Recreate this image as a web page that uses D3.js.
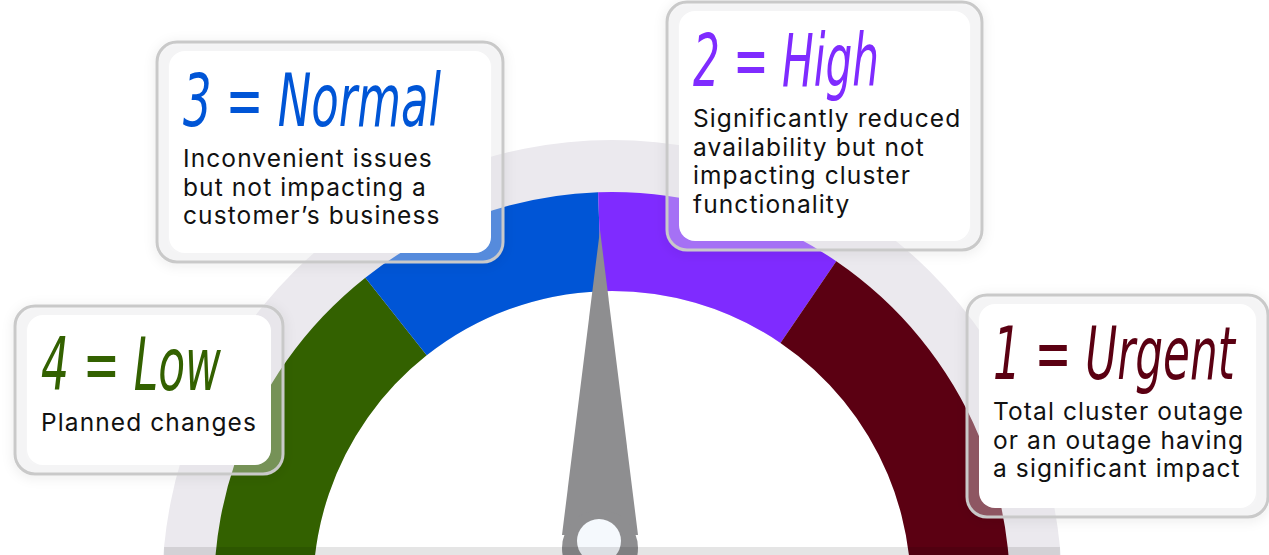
<!DOCTYPE html>
<html>
<head>
<meta charset="utf-8">
<script src="https://cdn.jsdelivr.net/npm/d3@7"></script>
<style>
  body { margin: 0; background: #fff; overflow: hidden; }
  .title { font-family: 'Liberation Sans Narrow', 'DejaVu Sans Condensed', sans-serif; font-style: italic; font-size: 73px; }
  .body-line { font-family: Inter, 'Noto Sans', sans-serif; font-size: 24.5px; letter-spacing: 1.1px; fill: #111; }
</style>
</head>
<body>
<script>
const width = 1269;
const height = 555;

// severity levels, left to right on the dial
const levels = ['4 = Low', '3 = Normal', '2 = High', '1 = Urgent'];
const spans = [66, 36.3, 36.3, 66];          // degrees of dial per level
const colors = ['#336100', '#0055d6', '#7f2bff', '#5b0012'];
const descriptions = [
  ['Planned changes'],
  ['Inconvenient issues', 'but not impacting a', 'customer\u2019s business'],
  ['Significantly reduced', 'availability but not', 'impacting cluster', 'functionality'],
  ['Total cluster outage', 'or an outage having', 'a significant impact']
];

// layout of the call-out boxes (same order as levels)
const boxes = [
  {x: 15,  y: 306, w: 268, h: 168, tw: 180},
  {x: 157, y: 42,  w: 346, h: 220, tw: 258},
  {x: 667, y: 2,   w: 315, h: 248, tw: 186},
  {x: 967, y: 295, w: 301, h: 222, tw: 242}
];

const cx = 612, cy = 590;
const rOuterBand = 450, rRingOuter = 398, rRingInner = 299;
const deg = Math.PI / 180;

const svg = d3.select('body').append('svg')
  .attr('width', width)
  .attr('height', height);

const defs = svg.append('defs');
const shadow = defs.append('filter').attr('id', 'shadow')
  .attr('x', '-20%').attr('y', '-20%').attr('width', '140%').attr('height', '140%');
shadow.append('feDropShadow')
  .attr('dx', 0).attr('dy', 2)
  .attr('stdDeviation', 6)
  .attr('flood-color', '#000')
  .attr('flood-opacity', 0.12);

const gauge = svg.append('g')
  .attr('transform', `translate(${cx}, ${cy})`);

gauge.append('circle')
  .attr('r', rOuterBand)
  .style('fill', '#ebe9ee');

gauge.append('circle')
  .attr('r', rRingInner)
  .style('fill', '#fff');

const pie = d3.pie()
  .sort(null)
  .value(d => d)
  .startAngle(-104.3 * deg)
  .endAngle((-104.3 + d3.sum(spans)) * deg);

const arc = d3.arc()
  .innerRadius(rRingInner)
  .outerRadius(rRingOuter);

gauge.selectAll('path.segment')
  .data(pie(spans))
  .enter()
  .append('path')
  .attr('class', 'segment')
  .attr('d', arc)
  .style('fill', (d, i) => colors[i]);

// needle
const needle = svg.append('g');
const nx = 600, tipY = 230, baseY = 535, baseHalf = 38;
needle.append('path')
  .attr('d', `M${nx},${tipY} L${nx + baseHalf},${baseY} L${nx - baseHalf},${baseY} Z`)
  .style('fill', '#8e8e90');
needle.append('circle')
  .attr('cx', nx).attr('cy', 548).attr('r', 38)
  .style('fill', '#8e8e90');
needle.append('circle')
  .attr('cx', 599).attr('cy', 541).attr('r', 22)
  .style('fill', '#f5f9fd');

// bottom base strip, clipped to the grey band
const stripY = 547;
const halfChord = Math.sqrt(rOuterBand * rOuterBand - (cy - stripY) * (cy - stripY));
svg.append('rect')
  .attr('x', cx - halfChord)
  .attr('y', stripY)
  .attr('width', halfChord * 2)
  .attr('height', height - stripY)
  .style('fill', '#000')
  .style('opacity', 0.1);

// call-out boxes
const cards = svg.selectAll('g.card')
  .data(levels)
  .enter()
  .append('g')
  .attr('class', 'card')
  .attr('transform', (d, i) => `translate(${boxes[i].x}, ${boxes[i].y})`);

cards.append('rect')
  .attr('width', (d, i) => boxes[i].w)
  .attr('height', (d, i) => boxes[i].h)
  .attr('rx', 20)
  .style('fill', 'rgba(235,235,238,0.35)')
  .style('stroke', '#c9c9c9')
  .style('stroke-width', 3)
  .attr('filter', 'url(#shadow)');

cards.append('rect')
  .attr('x', 12)
  .attr('y', 9)
  .attr('width', (d, i) => boxes[i].w - 24)
  .attr('height', (d, i) => boxes[i].h - 18)
  .attr('rx', 16)
  .style('fill', '#fff');

// condensed titles: squeeze horizontally to the width seen in the picture
cards.append('text')
  .attr('class', 'title')
  .style('fill', (d, i) => colors[i])
  .text(d => d)
  .attr('transform', function(d, i) {
    const k = boxes[i].tw / this.getComputedTextLength();
    return `translate(26, 84) scale(${k}, 1)`;
  });

cards.each(function(d, i) {
  d3.select(this).selectAll('text.body-line')
    .data(descriptions[i])
    .enter()
    .append('text')
    .attr('class', 'body-line')
    .attr('x', 26)
    .attr('y', (line, j) => 125 + j * 28.5)
    .text(line => line);
});
</script>
</body>
</html>
